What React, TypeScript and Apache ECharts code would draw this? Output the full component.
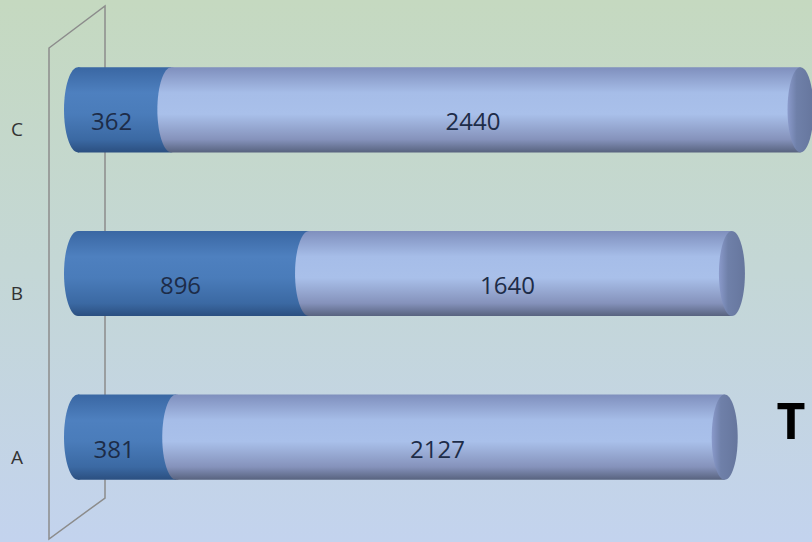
import React, { useEffect, useRef } from "react";
import * as echarts from "echarts";

const categories = ["A", "B", "C"];
const darkValues = [381, 896, 362];
const lightValues = [2127, 1640, 2440];
const sideTitle = "T";

export default function App() {
  const ref = useRef<HTMLDivElement>(null);
  useEffect(() => {
    if (!ref.current) return;
    const chart = echarts.init(ref.current, null, { renderer: "svg" });

    const darkData = categories.map((_, i) => [0, darkValues[i], i, darkValues[i]]);
    const lightData = categories.map((_, i) => [
      darkValues[i],
      darkValues[i] + lightValues[i],
      i,
      lightValues[i],
    ]);

    const vgrad = (stops: [number, string][]) =>
      new echarts.graphic.LinearGradient(
        0, 0, 0, 1,
        stops.map(([offset, color]) => ({ offset, color }))
      );

    const darkGrad = () =>
      vgrad([
        [0, "#3a67a3"],
        [0.3, "#4e80bf"],
        [0.55, "#4a7cba"],
        [0.85, "#3b69a3"],
        [1, "#2b4f80"],
      ]);
    const lightGrad = () =>
      vgrad([
        [0, "#7f8fbd"],
        [0.3, "#a6bde8"],
        [0.55, "#a9c0ea"],
        [0.85, "#8592bb"],
        [1, "#58637f"],
      ]);

    const makeRender = (kind: "dark" | "light") => (params: any, api: any) => {
      const x0 = api.value(0);
      const x1 = api.value(1);
      const c = api.value(2);
      const v = api.value(3);
      const p0 = api.coord([x0, c]);
      const p1 = api.coord([x1, c]);
      const h = api.size([0, 1])[1] * 0.52;
      const rx = 14;
      const children: any[] = [
        {
          type: "ellipse",
          shape: { cx: p0[0], cy: p0[1], rx, ry: h / 2 },
          style: { fill: kind === "dark" ? darkGrad() : lightGrad() },
        },
        {
          type: "rect",
          shape: { x: p0[0], y: p0[1] - h / 2, width: p1[0] - p0[0], height: h },
          style: { fill: kind === "dark" ? darkGrad() : lightGrad() },
        },
      ];
      if (kind === "light") {
        children.push({
          type: "ellipse",
          shape: { cx: p1[0], cy: p1[1], rx: 13, ry: h / 2 },
          style: {
            fill: new echarts.graphic.LinearGradient(0, 0, 1, 0, [
              { offset: 0, color: "#8a9acb" },
              { offset: 0.35, color: "#6f80a9" },
              { offset: 1, color: "#66769d" },
            ]),
          },
        });
      }
      children.push({
        type: "text",
        style: {
          text: String(v),
          x: (p0[0] + p1[0]) / 2 - 13,
          y: p0[1] + 11,
          align: "center",
          verticalAlign: "middle",
          fill: "#1d2c48",
          font: '24px "Open Sans", sans-serif',
        },
      });
      return { type: "group", children };
    };

    chart.setOption({
      animation: false,
      backgroundColor: {
        type: "linear",
        x: 0,
        y: 0,
        x2: 0,
        y2: 1,
        colorStops: [
          { offset: 0, color: "#c5d9c0" },
          { offset: 0.5, color: "#c4d7d6" },
          { offset: 1, color: "#c3d3ee" },
        ],
      },
      grid: { left: 78, right: 12, top: 28, bottom: 23 },
      xAxis: { type: "value", min: 0, max: 2800, show: false },
      yAxis: {
        type: "category",
        data: categories,
        axisLine: { show: false },
        axisTick: { show: false },
        splitLine: { show: false },
        axisLabel: {
          align: "center",
          verticalAlign: "top",
          margin: 61,
          padding: [10, 0, 0, 0],
          color: "#333333",
          fontSize: 19,
          fontFamily: '"Open Sans", sans-serif',
        },
      },
      graphic: [
        {
          type: "polygon",
          z: 0,
          shape: {
            points: [
              [49, 48],
              [105, 6],
              [105, 498],
              [49, 539],
            ],
          },
          style: { fill: "none", stroke: "#8c8c8c", lineWidth: 1.5 },
        },
        {
          type: "text",
          z: 10,
          x: 791,
          y: 420,
          style: {
            text: sideTitle,
            align: "center",
            verticalAlign: "middle",
            fill: "#000000",
            font: 'bold 50px "Open Sans", sans-serif',
          },
        },
      ],
      series: [
        {
          type: "custom",
          name: "dark",
          z: 5,
          renderItem: makeRender("dark"),
          encode: { x: [0, 1], y: 2 },
          data: darkData,
        },
        {
          type: "custom",
          name: "light",
          z: 6,
          renderItem: makeRender("light"),
          encode: { x: [0, 1], y: 2 },
          data: lightData,
        },
      ],
    });
    return () => chart.dispose();
  }, []);
  return (
    <div
      ref={ref}
      style={{ position: "fixed", left: 0, top: 0, width: 812, height: 542 }}
    />
  );
}
